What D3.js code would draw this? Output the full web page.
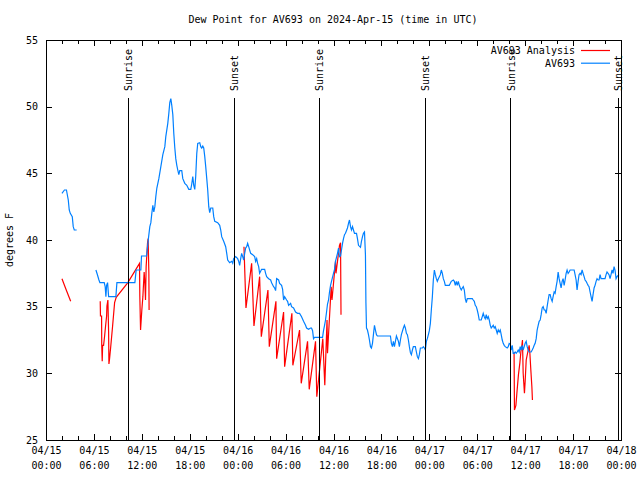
<!DOCTYPE html>
<html><head><meta charset="utf-8">
<script src="https://cdn.jsdelivr.net/npm/d3@7"></script>
<style>
body{margin:0;background:#fff;}
text{font-family:"DejaVu Sans Mono","Liberation Mono",monospace;font-size:10px;fill:#000;}
</style></head>
<body><svg id="c" width="640" height="480"></svg>
<script>
// ---- data (hours after 2024-04-15 00:00 UTC, dew point in °F) ----
const titleText = "Dew Point for AV693 on 2024-Apr-15 (time in UTC)";
const yTicks = [25, 30, 35, 40, 45, 50, 55];
const seriesNames = ["AV693 Analysis", "AV693"];
const sunHours = [10.29, 23.56, 34.19, 47.5, 58.19, 71.63];
const sunLabels = ["Sunrise", "Sunset", "Sunrise", "Sunset", "Sunrise", "Sunset"];

const blueHours = [2.0,2.31,2.56,2.79,2.91,3.04,3.29,3.41,3.54,3.84,5.0,
6.25,6.41,6.63,6.75,7.29,7.41,7.5,7.59,7.71,7.84,8.75,8.88,11.13,11.29,11.88,11.96,12.59,12.84,13.0,13.13,13.25,13.38,13.5,13.63,13.75,13.88,14.13,14.38,14.63,14.88,15.0,15.25,15.38,15.5,15.63,15.75,15.88,16.0,16.13,16.25,16.38,16.5,16.63,16.75,17.0,17.13,17.38,17.63,17.88,18.13,18.25,18.38,18.5,18.63,18.75,18.88,19.0,19.25,19.38,19.5,19.63,19.75,19.88,20.0,20.13,20.25,20.38,20.5,20.63,20.88,21.0,21.13,21.5,21.75,21.88,22.0,22.25,22.5,22.63,22.75,23.0,23.25,23.38,
23.5,23.75,24.0,24.13,24.25,24.38,24.5,24.63,24.75,24.88,25.0,25.13,25.25,25.38,25.5,25.63,25.88,26.13,26.25,26.38,26.5,26.63,26.75,27.0,27.38,27.5,27.63,27.88,28.13,28.25,28.5,28.63,28.75,28.88,29.13,29.25,29.5,29.63,29.75,29.88,30.13,30.25,30.38,30.63,30.75,31.0,31.25,31.5,31.75,32.0,32.25,32.5,32.63,32.88,33.13,33.25,33.38,33.5,33.63,34.63,
34.75,34.88,35.0,35.13,35.25,35.38,35.5,35.63,35.75,36.0,36.13,36.25,36.5,36.63,36.75,36.88,37.0,37.13,37.25,37.38,37.5,37.75,37.88,38.0,38.13,38.25,38.38,38.5,38.63,38.88,39.0,39.13,39.38,39.5,39.63,39.75,39.88,40.0,40.06,40.13,40.25,40.38,40.5,40.63,40.75,40.88,41.0,41.13,41.25,41.38,41.5,43.13,43.25,43.38,43.5,43.63,43.88,44.13,44.25,44.38,44.5,44.75,44.88,45.0,45.13,45.25,45.38,45.5,45.63,45.75,45.88,46.0,46.25,46.38,46.5,46.63,46.75,46.88,47.13,47.25,47.38,47.5,
47.63,47.75,47.88,48.0,48.13,48.25,48.38,48.5,48.63,48.75,48.88,49.0,49.13,49.38,49.5,49.63,49.75,49.88,50.0,50.25,50.5,50.63,50.75,51.0,51.13,51.25,51.38,51.5,51.63,51.75,51.88,52.0,52.13,52.25,52.38,52.5,52.63,52.75,53.38,53.5,53.63,53.75,53.88,54.0,54.13,54.25,54.5,54.63,54.75,54.88,55.0,55.13,55.25,55.38,55.5,55.63,55.75,56.0,56.13,56.25,56.38,56.5,56.63,56.75,56.88,57.0,57.13,57.25,57.38,57.5,57.75,57.88,58.0,
58.13,58.25,58.38,58.5,58.63,58.75,58.88,59.0,59.13,59.25,59.38,59.5,59.63,59.75,59.88,60.0,60.13,60.25,60.38,60.5,60.75,60.88,61.0,61.13,61.25,61.38,61.5,61.63,61.75,61.88,62.0,62.13,62.25,62.38,62.5,62.63,62.75,62.88,63.0,63.13,63.25,63.38,63.5,63.63,63.75,63.88,64.0,64.13,64.25,64.38,64.5,64.63,64.75,64.88,65.0,65.13,65.25,65.38,65.5,65.63,66.13,66.25,66.38,66.5,66.63,66.75,66.88,67.0,67.13,67.25,67.38,67.5,67.63,67.75,67.88,68.0,68.13,68.25,68.38,68.5,68.63,68.75,68.88,69.0,69.13,69.25,69.38,69.5,70.0,70.13,70.25,70.38,70.5,70.63,70.75,70.88,71.0,71.13,71.25,71.38,71.5,71.75];

const blueTemps = [43.5,43.75,43.75,43.0,42.25,42.0,41.75,41.0,40.75,40.75,null,
37.75,37.45,37.0,36.8,36.8,36.5,35.75,36.6,36.8,35.75,35.75,36.8,36.8,37.75,37.75,38.8,38.8,40.2,41.0,41.3,42.0,42.6,42.1,42.5,43.25,43.9,44.6,45.5,46.4,47.0,47.75,48.75,49.5,50.3,50.6,50.1,49.4,48.0,46.9,46.1,45.6,45.25,44.9,45.2,45.2,44.6,44.25,44.1,43.8,43.8,44.2,44.75,44.1,43.8,44.8,46.5,47.25,47.3,47.0,46.9,47.05,46.9,46.25,45.5,44.6,43.75,42.5,42.05,42.4,42.4,41.75,41.4,41.3,41.1,40.75,40.25,39.9,39.5,39.0,38.5,38.3,38.4,38.25,
38.6,38.75,38.6,38.4,38.1,38.6,39.0,38.75,38.5,39.0,39.4,39.5,39.75,39.5,39.25,39.0,38.9,38.75,38.4,38.6,38.25,38.0,37.5,37.8,37.8,37.5,37.25,37.1,37.0,36.8,36.5,36.4,36.2,37.1,37.0,36.75,36.6,36.3,35.5,35.75,35.5,35.4,35.1,35.25,35.0,34.9,34.6,34.5,34.5,34.25,33.9,33.6,33.4,33.3,33.4,33.4,33.2,32.6,32.7,32.7,
33.2,33.6,34.0,34.6,35.2,35.5,36.1,36.6,36.9,37.5,37.8,38.4,39.0,39.4,38.75,38.8,39.25,39.75,40.1,40.4,40.5,40.9,41.25,41.5,41.0,40.75,41.0,40.75,40.5,40.5,40.1,39.6,39.45,39.9,40.25,40.5,40.6,38.9,35.3,33.4,33.25,32.9,32.5,32.0,31.9,32.25,32.9,33.6,33.25,32.9,32.8,32.8,32.25,32.0,32.4,32.0,32.8,32.4,32.0,32.5,32.9,33.4,33.6,33.4,33.0,32.9,32.5,32.0,31.55,31.4,31.75,32.0,32.0,31.6,31.25,31.1,31.4,31.9,31.9,32.0,31.9,31.75,
32.4,32.6,32.9,33.2,33.75,34.75,35.75,37.0,37.75,37.4,37.1,36.9,37.1,37.4,37.75,37.5,37.1,36.9,36.6,36.6,36.6,36.75,36.9,37.0,36.9,36.6,36.9,36.6,36.9,36.6,36.4,36.25,36.4,36.5,36.25,35.6,35.3,35.6,35.6,35.5,35.4,35.1,35.0,34.75,34.4,34.0,34.0,34.25,34.5,34.25,34.1,34.4,34.1,34.25,34.0,33.6,33.4,33.6,33.4,33.5,33.25,33.0,33.25,33.1,33.25,32.9,32.5,32.25,32.1,32.0,31.9,32.0,32.25,
32.2,31.75,32.1,31.5,31.5,31.6,31.5,31.6,31.75,31.6,32.0,31.75,32.1,31.75,32.0,32.25,32.4,32.0,31.75,31.6,31.6,31.75,31.9,32.1,32.25,32.6,33.25,33.6,33.9,34.0,34.4,34.9,35.0,34.75,34.75,34.5,35.0,35.5,35.9,35.9,35.6,35.4,35.75,36.1,36.0,36.5,36.9,37.6,37.1,36.75,36.4,36.9,37.1,36.6,37.0,37.5,37.75,37.5,37.6,37.75,37.75,37.4,37.0,36.25,36.9,37.4,37.5,37.4,37.75,37.5,37.25,37.0,36.9,36.75,36.6,36.5,36.1,35.75,35.4,35.9,36.4,36.6,36.9,37.1,37.0,37.0,37.4,37.1,37.1,37.4,37.6,37.5,37.4,37.1,37.4,37.75,37.5,38.0,37.75,37.1,37.25,37.4];

const redHours = [2.0,2.5,3.09,4.5,
6.79,6.82,6.96,6.98,7.04,7.09,7.21,7.34,7.46,7.59,7.63,7.75,7.84,7.88,7.96,8.09,8.34,8.59,8.79,10.25,11.71,11.75,11.84,12.0,12.13,12.29,12.38,12.46,12.54,12.71,12.79,12.88,12.91,18.0,
24.79,25.04,25.75,26.04,26.75,26.96,27.79,27.96,28.79,28.88,29.75,29.88,30.79,30.91,31.75,31.96,32.75,32.96,33.75,33.91,34.66,34.91,35.19,35.25,35.71,35.81,36.25,36.31,36.75,36.88,36.94,45.0,
58.61,58.66,58.84,58.96,59.16,59.34,59.46,59.59,59.66,59.75,59.91,60.0,60.13,60.38,60.5,60.59,60.71,60.84,60.91];
const redTemps = [37.1,36.3,35.4,null,
35.4,34.3,34.3,32.1,30.9,32.1,32.1,32.8,33.55,34.3,35.05,35.5,33.1,30.7,31.1,31.9,33.55,35.3,35.7,36.8,38.25,35.75,33.25,34.75,35.75,37.6,36.75,35.5,38.0,39.75,40.1,37.5,34.75,null,
39.5,34.9,38.25,33.55,37.25,32.75,36.25,32.0,35.4,31.1,34.6,30.5,34.5,30.6,33.25,29.25,32.4,28.8,32.4,28.25,32.6,29.1,34.0,31.5,36.5,35.5,38.4,37.5,39.6,39.8,34.4,null,
31.6,27.25,27.6,28.5,29.9,30.8,31.6,32.1,32.5,30.0,28.5,29.4,31.0,31.75,32.1,31.5,30.25,29.0,28.0];

// ---- layout ----
const svg = d3.select("#c");
const L = 46, R = 621, T = 40, B = 440;
const t0 = Date.UTC(2024, 3, 15);
const hr = h => new Date(t0 + h * 3600e3);
const x = d3.scaleUtc().domain([hr(0), hr(72)]).range([L, R]);
const y = d3.scaleLinear().domain([25, 55]).range([B, T]);

// title
svg.append("text").attr("x", 333).attr("y", 23).attr("text-anchor", "middle").text(titleText);
// y label
svg.append("text").attr("transform", "translate(13,240) rotate(-90)").attr("text-anchor", "middle").text("degrees F");

// series
function mk(hours, temps) { return hours.map((h, i) => ({ t: hr(h), v: temps[i] })); }
const line = d3.line().defined(d => d.v != null).x(d => x(d.t)).y(d => y(d.v));
const g = svg.append("g");
g.append("path").datum(mk(redHours, redTemps)).attr("d", line)
  .attr("fill", "none").attr("stroke", "#ff0000").attr("stroke-width", 1.2);
g.append("path").datum(mk(blueHours, blueTemps)).attr("d", line)
  .attr("fill", "none").attr("stroke", "#0080ff").attr("stroke-width", 1.2);

// sunrise / sunset
sunHours.forEach((h, i) => {
  svg.append("line").attr("x1", x(hr(h))).attr("x2", x(hr(h))).attr("y1", 98).attr("y2", B)
    .attr("stroke", "#000").attr("stroke-width", 1).attr("shape-rendering", "crispEdges");
  svg.append("text").attr("transform", `translate(${x(hr(h)) + 4},91) rotate(-90)`)
    .attr("text-anchor", "start").text(sunLabels[i]);
});

// axes
const majorT = d3.range(0, 73, 6).map(hr);
const minorT = d3.range(0, 73, 2).filter(h => h % 6 !== 0).map(hr);
const fmtD = d3.utcFormat("%m/%d"), fmtH = d3.utcFormat("%H:%M");
const xb = svg.append("g").attr("transform", `translate(0,${B})`)
  .call(d3.axisBottom(x).tickValues(majorT).tickSize(-6).tickPadding(7).tickFormat(""));
xb.selectAll(".tick text").each(function (d) {
  const s = d3.select(this);
  s.append("tspan").attr("x", 0).attr("dy", "0.71em").text(fmtD(d));
  s.append("tspan").attr("x", 0).attr("dy", "1.5em").text(fmtH(d));
});
svg.append("g").attr("transform", `translate(0,${B})`)
  .call(d3.axisBottom(x).tickValues(minorT).tickSize(-4).tickFormat(""));
svg.append("g").attr("transform", `translate(0,${T})`)
  .call(d3.axisTop(x).tickValues(majorT).tickSize(-6).tickFormat(""));
svg.append("g").attr("transform", `translate(0,${T})`)
  .call(d3.axisTop(x).tickValues(minorT).tickSize(-4).tickFormat(""));
svg.append("g").attr("transform", `translate(${L},0)`)
  .call(d3.axisLeft(y).tickValues(yTicks).tickSize(-6).tickPadding(8));
svg.append("g").attr("transform", `translate(${R},0)`)
  .call(d3.axisRight(y).tickValues(yTicks).tickSize(-6).tickFormat(""));
svg.selectAll(".domain").remove();
svg.selectAll(".tick line").attr("stroke", "#000").attr("shape-rendering", "crispEdges");
svg.selectAll(".tick text").style("font-family", "DejaVu Sans Mono, monospace").style("font-size", "10px");
svg.append("rect").attr("x", L).attr("y", T).attr("width", R - L).attr("height", B - T)
  .attr("fill", "none").attr("stroke", "#000").attr("shape-rendering", "crispEdges");

// legend
const legColors = ["#ff0000", "#0080ff"];
seriesNames.forEach((n, i) => {
  const ly = 50.5 + i * 12.7;
  svg.append("text").attr("x", 575).attr("y", ly).attr("dy", "0.35em").attr("text-anchor", "end").text(n);
  svg.append("line").attr("x1", 581).attr("x2", 610).attr("y1", ly).attr("y2", ly)
    .attr("stroke", legColors[i]).attr("stroke-width", 1.2);
});
</script></body></html>
